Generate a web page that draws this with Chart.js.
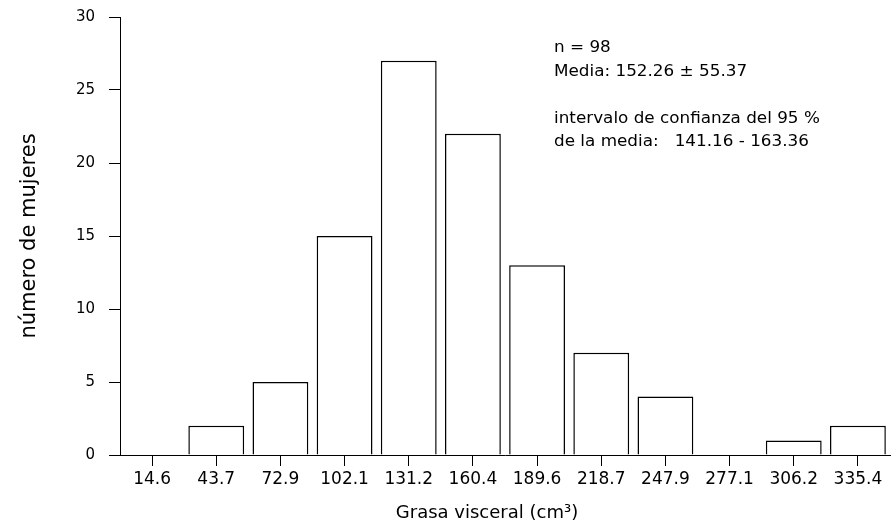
<!DOCTYPE html>
<html>
  <head>
    <title>Grasa visceral</title>
    <script src="https://cdn.jsdelivr.net/npm/chart.js"></script>
    <style>
      html, body { margin: 0; padding: 0; background: #fff; }
      .grafico { width: 895px; height: 531px; }
    </style>
  </head>

  <body>
    <div class="grafico">
      <canvas id="histograma" width="895" height="531"></canvas>
    </div>

    <script>
      // marcas de clase (cm3) y numero de mujeres por intervalo
      var clases = ["14.6", "43.7", "72.9", "102.1", "131.2", "160.4", "189.6", "218.7", "247.9", "277.1", "306.2", "335.4"];
      var mujeres = [0, 2, 5, 15, 27, 22, 13, 7, 4, 0, 1, 2];
      var ticksY = [0, 5, 10, 15, 20, 25, 30];
      var notas = [
        "n = 98",
        "Media: 152.26 ± 55.37",
        "",
        "intervalo de confianza del 95 %",
        "de la media:   141.16 - 163.36",
      ];
      var tituloX = "Grasa visceral (cm³)";

      var fuente = "'DejaVu Sans', sans-serif";

      // textos sueltos: notas arriba a la derecha y titulo del eje x
      var textos = {
        id: "textos",
        afterDraw(chart) {
          var ctx = chart.ctx;
          ctx.save();
          ctx.fillStyle = "#000";
          ctx.font = "15px " + fuente;
          ctx.textBaseline = "alphabetic";
          var y = 52;
          notas.forEach((linea) => {
            if (linea) {
              ctx.save();
              ctx.translate(554, y);
              ctx.scale(1.12, 1);
              ctx.fillText(linea, 0, 0);
              ctx.restore();
            }
            y += 23.5;
          });

          ctx.font = "18px " + fuente;
          ctx.textAlign = "center";
          ctx.fillText(tituloX, 487, 518);
          ctx.restore();
        },
      };

      var histograma = new Chart(document.getElementById("histograma").getContext("2d"), {
        type: "bar",
        data: {
          labels: clases,
          datasets: [
            {
              label: "número de mujeres",
              data: mujeres,
              backgroundColor: "#fff",
              borderColor: "#000",
              borderWidth: 1.5,
              barPercentage: 0.87,
              categoryPercentage: 1,
            },
          ],
        },
        options: {
          responsive: false,
          animation: false,
          layout: { padding: { top: 17, right: 5, left: 0, bottom: 0 } },
          scales: {
            x: {
              grid: { offset: false, drawOnChartArea: false, drawTicks: true, tickLength: 11, color: "#000" },
              border: { display: true, color: "#000", width: 1 },
              ticks: { color: "#000", font: { family: fuente, size: 17 }, padding: 3, maxRotation: 0, autoSkip: false },
              afterFit(scale) {
                scale.height = 76;
              },
            },
            y: {
              min: 0,
              max: 30,
              afterBuildTicks(scale) {
                scale.ticks = ticksY.map((v) => ({ value: v }));
              },
              grid: { drawOnChartArea: false, drawTicks: true, tickLength: 11, color: "#000" },
              border: { display: true, color: "#000", width: 1 },
              ticks: { color: "#000", font: { family: fuente, size: 15 }, padding: 14 },
              title: {
                display: true,
                text: "número de mujeres",
                color: "#000",
                font: { family: fuente, size: 21 },
                padding: { top: 17, bottom: 0 },
              },
              afterFit(scale) {
                scale.width = 120;
                // el padding de las etiquetas no debe empujar el area del grafico
                scale.paddingTop = 10;
                scale.paddingBottom = 10;
              },
            },
          },
          plugins: {
            legend: { display: false },
            tooltip: { enabled: false },
          },
        },
        plugins: [textos],
      });
    </script>
  </body>
</html>
